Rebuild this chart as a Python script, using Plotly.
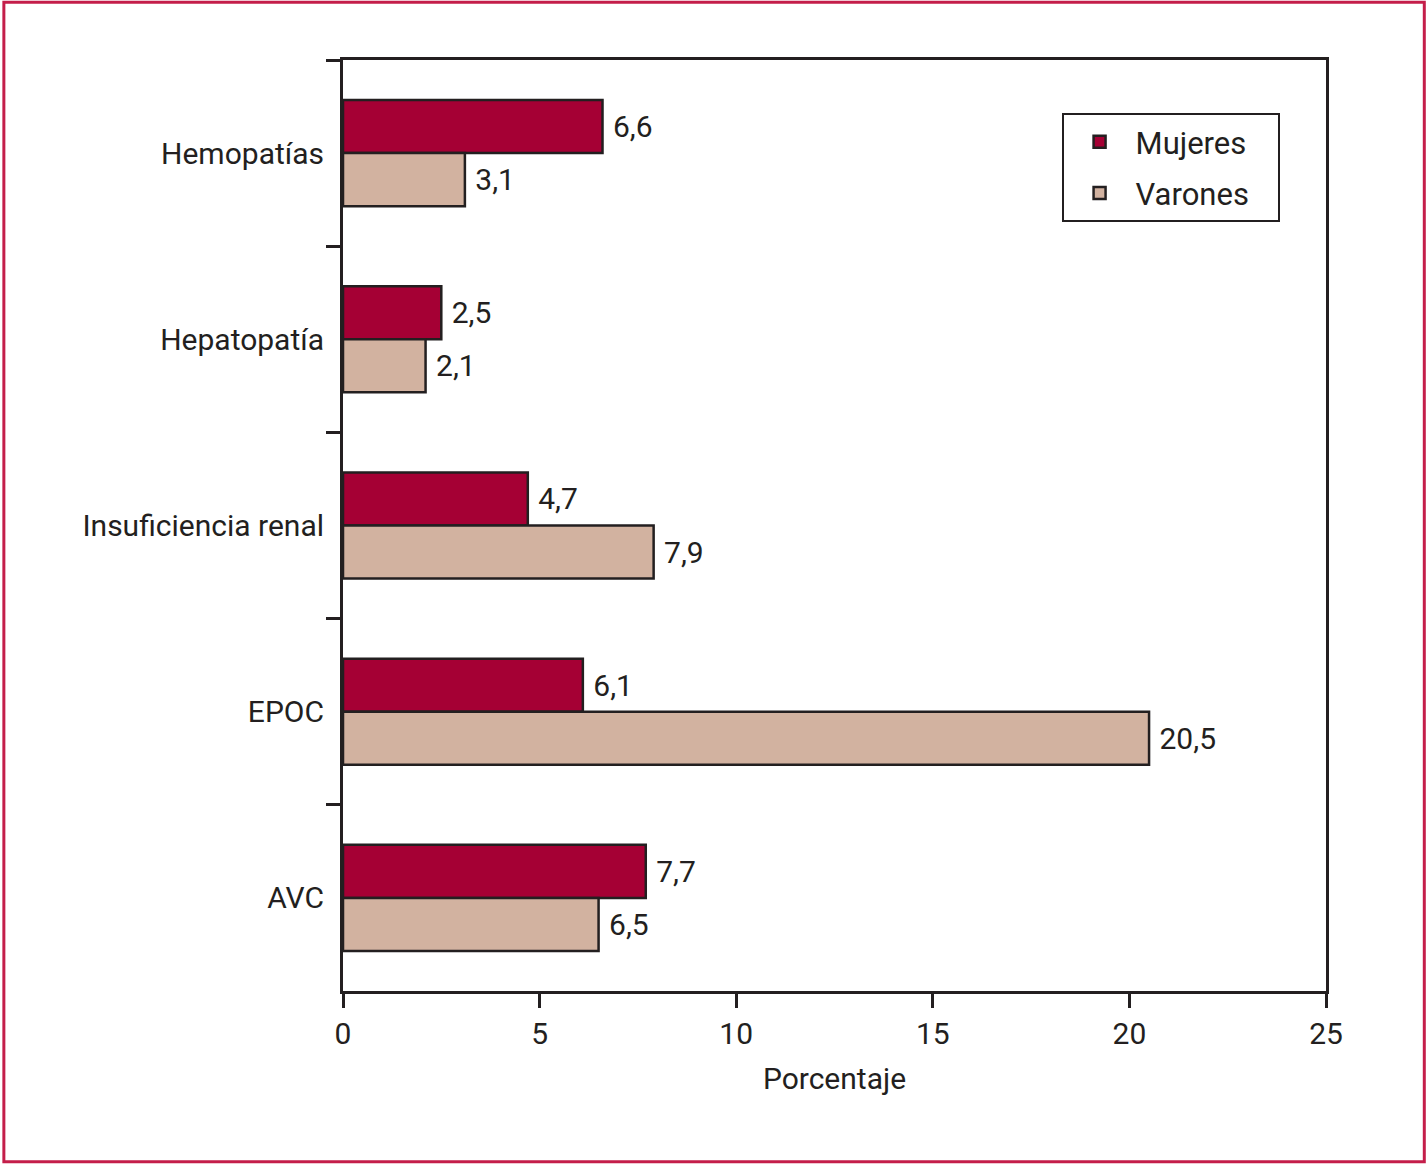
import plotly.graph_objects as go

categories = ["Hemopatías", "Hepatopatía", "Insuficiencia renal", "EPOC", "AVC"]
mujeres = [6.6, 2.5, 4.7, 6.1, 7.7]
varones = [3.1, 2.1, 7.9, 20.5, 6.5]
x_ticks = [0, 5, 10, 15, 20, 25]

FONT = "Liberation Sans Narrow, Roboto, Arial Narrow, sans-serif"
INK = "#231F20"
FS = 30
PAD = "\u00a0\u00a0\u00a0"

fig = go.Figure()
fig.add_trace(go.Bar(
    y=categories, x=mujeres, name="Mujeres" + PAD, orientation="h", legendgroup="m",
    marker=dict(color="#A50034", line=dict(color=INK, width=2.5)),
    texttemplate=" %{x:.1f}", textposition="outside",
    textfont=dict(size=FS, color=INK, family=FONT), cliponaxis=False,
))
fig.add_trace(go.Bar(
    y=categories, x=varones, name="Varones" + PAD, orientation="h", legendgroup="v",
    marker=dict(color="#D2B2A0", line=dict(color=INK, width=2.5)),
    texttemplate=" %{x:.1f}", textposition="outside",
    textfont=dict(size=FS, color=INK, family=FONT), cliponaxis=False,
))

fig.update_layout(
    width=1428, height=1165,
    margin=dict(l=343, r=102, t=60, b=174),
    paper_bgcolor="white", plot_bgcolor="white",
    barmode="group", bargap=0.43, bargroupgap=0,
    separators=",.",
    font=dict(family=FONT, size=FS, color=INK),
    showlegend=True,
    legend=dict(
        x=0.731, y=0.943, xanchor="left", yanchor="top",
        bordercolor=INK, borderwidth=2, bgcolor="white",
        traceorder="grouped", font=dict(size=FS + 1, family=FONT, color=INK),
        itemwidth=62, tracegroupgap=8,
    ),
    xaxis=dict(
        range=[0, 25], tickvals=x_ticks, ticks="outside", ticklen=14,
        tickwidth=3, tickcolor=INK, showline=True, linewidth=3, linecolor=INK,
        mirror=True, showgrid=False, zeroline=False,
        tickfont=dict(size=FS, family=FONT, color=INK),
        title=dict(text="Porcentaje", font=dict(size=FS, family=FONT, color=INK), standoff=18),
    ),
    yaxis=dict(
        autorange="reversed", ticks="outside", tickson="boundaries", ticklen=14,
        tickwidth=3, tickcolor=INK, showline=True, linewidth=3, linecolor=INK,
        mirror=True, showgrid=False, zeroline=False, ticklabelstandoff=10,
        tickfont=dict(size=FS, family=FONT, color=INK),
    ),
)

# outer crimson frame around the whole figure
fig.add_shape(type="rect", xref="paper", yref="paper",
              x0=-0.345, x1=1.1, y0=-0.1835, y1=1.062,
              line=dict(color="#C41E4A", width=3), fillcolor="rgba(0,0,0,0)")

fig.write_html("out.html", config={"displayModeBar": False},
               post_script="document.body.style.margin='0';")
